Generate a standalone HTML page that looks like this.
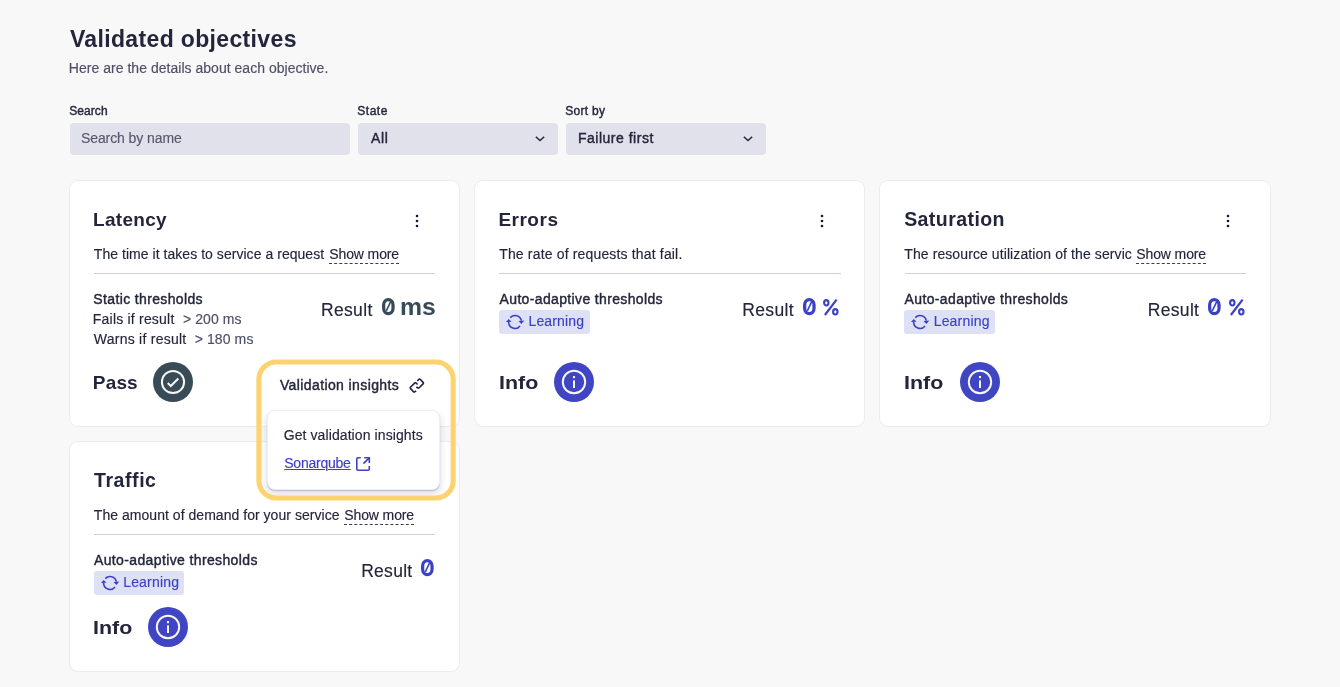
<!DOCTYPE html>
<html><head><meta charset="utf-8"><title>Validated objectives</title>
<style>
*{box-sizing:border-box;margin:0;padding:0}
html,body{width:1340px;height:687px;overflow:hidden;background:#f8f8f9;font-family:"Liberation Sans",sans-serif;}
.t{position:absolute;white-space:nowrap;line-height:20px;height:20px;}
.abs{position:absolute}
.card{position:absolute;background:#fff;border-radius:8px;box-shadow:0 0 0 1px #ebebf0;width:389.333px}
.inp{position:absolute;top:123px;height:32px;background:#e0e1ea;border-radius:4px}
.div{position:absolute;height:1px;background:#cdcedb;width:341.333px}
.chip{position:absolute;width:91px;height:24px;background:#dee1f6;border-radius:3px}
.circ{position:absolute;width:40px;height:40px;border-radius:50%}
svg{position:absolute;overflow:visible}
.bl{display:inline-block;width:0;height:0}
</style></head><body>
<!-- inputs -->
<div class="inp" style="left:70px;width:280px"></div>
<div class="inp" style="left:358px;width:200px"></div>
<div class="inp" style="left:566px;width:200px"></div>
<svg style="left:535px;top:135px" width="10" height="8" viewBox="0 0 10 8"><path d="M0.8 1.8 L5 5.6 L9.2 1.8" fill="none" stroke="#23263b" stroke-width="1.5"/></svg>
<svg style="left:743px;top:135px" width="10" height="8" viewBox="0 0 10 8"><path d="M0.8 1.8 L5 5.6 L9.2 1.8" fill="none" stroke="#23263b" stroke-width="1.5"/></svg>

<!-- cards -->
<div class="card" style="left:70px;top:181px;height:245px;width:389px"></div>
<div class="card" style="left:475px;top:181px;height:245px;width:389px"></div>
<div class="card" style="left:880px;top:181px;height:245px;width:390px"></div>
<div class="card" style="left:70px;top:442px;height:229px;width:389px"></div>

<div class="div" style="left:94px;top:273px"></div>
<div class="div" style="left:499.333px;top:273px"></div>
<div class="div" style="left:904.667px;top:273px"></div>
<div class="div" style="left:94px;top:534px"></div>

<svg style="left:414px;top:213px" width="6" height="16" viewBox="0 0 6 16"><g fill="#15153a"><circle cx="3" cy="3" r="1.3"/><circle cx="3" cy="8" r="1.3"/><circle cx="3" cy="13" r="1.3"/></g></svg>
<svg style="left:381.5px;top:297.9px" width="12.7" height="17.3" viewBox="0 0 12.7 17.3"><rect x="1.65" y="1.6" width="9.4" height="14.1" rx="4.7" ry="5.4" fill="none" stroke="#374a58" stroke-width="3.25"/><path d="M4.3 12.9 L8.6 3.9" stroke="#374a58" stroke-width="1.6" fill="none"/></svg>
<div class="circ" style="left:153px;top:362px;background:#384c58"></div>
<svg style="left:159px;top:368px" width="28" height="28" viewBox="-14 -14 28 28"><circle r="11.1" fill="none" stroke="#f8f7f3" stroke-width="2"/><path d="M-5.3 1 L-2.2 4 L5.3 -3.5" fill="none" stroke="#f7f6f2" stroke-width="2"/></svg>
<svg style="left:819.3330000000001px;top:213px" width="6" height="16" viewBox="0 0 6 16"><g fill="#15153a"><circle cx="3" cy="3" r="1.3"/><circle cx="3" cy="8" r="1.3"/><circle cx="3" cy="13" r="1.3"/></g></svg>
<svg style="left:802.8330000000001px;top:297.9px" width="12.7" height="17.3" viewBox="0 0 12.7 17.3"><rect x="1.65" y="1.6" width="9.4" height="14.1" rx="4.7" ry="5.4" fill="none" stroke="#3b41c4" stroke-width="3.25"/><path d="M4.3 12.9 L8.6 3.9" stroke="#3b41c4" stroke-width="1.6" fill="none"/></svg>
<svg style="left:823.433px;top:298.5px" width="15.6" height="16.8" viewBox="0 0 15.6 16.8"><g fill="none" stroke="#3b41c4" stroke-width="2.1"><ellipse cx="3.3" cy="3.8" rx="2.2" ry="2.7"/><ellipse cx="12.3" cy="12.8" rx="2.2" ry="2.7"/><path d="M1.9 16 L13.6 0.6" stroke-width="2.2"/></g></svg>
<div class="chip" style="left:499.033px;top:310px;width:91px"></div>
<svg style="left:504.83299999999997px;top:311.9px" width="20" height="20" viewBox="-10 -10 20 20"><g fill="none" stroke="#3b41c4" stroke-width="1.6"><path d="M-4.7 -4.4 A6.4 6.4 0 0 1 6.3 -1.3"/><path d="M-6.4 0 A6.4 6.4 0 0 0 5 4.05"/></g><path d="M-9.1 0.1 L-6.3 -2.9 L-3.5 -0.2 Z" fill="#3b41c4"/><path d="M9.3 -1.4 L6.4 1.9 L3.5 -1.1 Z" fill="#3b41c4"/></svg>
<div class="circ" style="left:554.3330000000001px;top:362px;background:#4046c3"></div>
<svg style="left:560.3330000000001px;top:368px" width="28" height="28" viewBox="-14 -14 28 28"><circle r="11.2" fill="none" stroke="#f8f7f3" stroke-width="2"/><rect x="-1" y="-6" width="2" height="2.2" fill="#f7f6f2"/><rect x="-1" y="-1.6" width="2" height="7.6" fill="#f7f6f2"/></svg>
<svg style="left:1224.6660000000002px;top:213px" width="6" height="16" viewBox="0 0 6 16"><g fill="#15153a"><circle cx="3" cy="3" r="1.3"/><circle cx="3" cy="8" r="1.3"/><circle cx="3" cy="13" r="1.3"/></g></svg>
<svg style="left:1208.1660000000002px;top:297.9px" width="12.7" height="17.3" viewBox="0 0 12.7 17.3"><rect x="1.65" y="1.6" width="9.4" height="14.1" rx="4.7" ry="5.4" fill="none" stroke="#3b41c4" stroke-width="3.25"/><path d="M4.3 12.9 L8.6 3.9" stroke="#3b41c4" stroke-width="1.6" fill="none"/></svg>
<svg style="left:1228.766px;top:298.5px" width="15.6" height="16.8" viewBox="0 0 15.6 16.8"><g fill="none" stroke="#3b41c4" stroke-width="2.1"><ellipse cx="3.3" cy="3.8" rx="2.2" ry="2.7"/><ellipse cx="12.3" cy="12.8" rx="2.2" ry="2.7"/><path d="M1.9 16 L13.6 0.6" stroke-width="2.2"/></g></svg>
<div class="chip" style="left:904.3660000000001px;top:310px;width:91px"></div>
<svg style="left:910.166px;top:311.9px" width="20" height="20" viewBox="-10 -10 20 20"><g fill="none" stroke="#3b41c4" stroke-width="1.6"><path d="M-4.7 -4.4 A6.4 6.4 0 0 1 6.3 -1.3"/><path d="M-6.4 0 A6.4 6.4 0 0 0 5 4.05"/></g><path d="M-9.1 0.1 L-6.3 -2.9 L-3.5 -0.2 Z" fill="#3b41c4"/><path d="M9.3 -1.4 L6.4 1.9 L3.5 -1.1 Z" fill="#3b41c4"/></svg>
<div class="circ" style="left:959.666px;top:362px;background:#4046c3"></div>
<svg style="left:965.666px;top:368px" width="28" height="28" viewBox="-14 -14 28 28"><circle r="11.2" fill="none" stroke="#f8f7f3" stroke-width="2"/><rect x="-1" y="-6" width="2" height="2.2" fill="#f7f6f2"/><rect x="-1" y="-1.6" width="2" height="7.6" fill="#f7f6f2"/></svg>
<svg style="left:421.4px;top:558.9px" width="12.7" height="17.3" viewBox="0 0 12.7 17.3"><rect x="1.65" y="1.6" width="9.4" height="14.1" rx="4.7" ry="5.4" fill="none" stroke="#3b41c4" stroke-width="3.25"/><path d="M4.3 12.9 L8.6 3.9" stroke="#3b41c4" stroke-width="1.6" fill="none"/></svg>
<div class="chip" style="left:94px;top:571px;width:90px"></div>
<svg style="left:99.8px;top:572.9px" width="20" height="20" viewBox="-10 -10 20 20"><g fill="none" stroke="#3b41c4" stroke-width="1.6"><path d="M-4.7 -4.4 A6.4 6.4 0 0 1 6.3 -1.3"/><path d="M-6.4 0 A6.4 6.4 0 0 0 5 4.05"/></g><path d="M-9.1 0.1 L-6.3 -2.9 L-3.5 -0.2 Z" fill="#3b41c4"/><path d="M9.3 -1.4 L6.4 1.9 L3.5 -1.1 Z" fill="#3b41c4"/></svg>
<div class="circ" style="left:148px;top:607px;background:#4046c3"></div>
<svg style="left:154px;top:613px" width="28" height="28" viewBox="-14 -14 28 28"><circle r="11.2" fill="none" stroke="#f8f7f3" stroke-width="2"/><rect x="-1" y="-6" width="2" height="2.2" fill="#f7f6f2"/><rect x="-1" y="-1.6" width="2" height="7.6" fill="#f7f6f2"/></svg>

<div class="abs" style="left:267px;top:410px;width:173px;height:80px;background:#fff;border-radius:8px;border:1px solid #eeeef4;box-shadow:0 1px 1px rgba(40,40,90,0.22),0 4px 6px 1px rgba(40,40,90,0.13)"></div>
<svg style="left:250px;top:350px" width="215" height="160" viewBox="250 350 215 160"><rect x="258.925" y="362.025" width="194.250" height="135.950" rx="17.3" ry="17.3" fill="none" stroke="#fdd372" stroke-width="5.15"/></svg>
<svg style="left:405px;top:374.2px" width="24" height="24" viewBox="405 374 24 24"><g fill="none" stroke="#20223f" stroke-width="1.6" stroke-linejoin="round"><path d="M417.6 384.5 L415.9 382.8 Q415.4 382.4 414.9 382.9 L410.4 387.3 Q409.9 387.8 410.4 388.4 L413.5 391.8 Q414 392.3 414.6 391.9 L416.2 390.9"/><path d="M417.3 381 L419.2 379.2 Q419.7 378.8 420.2 379.3 L423.3 382.6 Q423.7 383.1 423.3 383.6 L418.9 388 Q418.4 388.4 417.9 388 L416.3 386.9"/></g></svg>
<svg style="left:354px;top:455px" width="18" height="18" viewBox="354 455 18 18"><g fill="none" stroke="#3d42c3" stroke-width="1.6"><path d="M360.8 457.8 L358 457.8 Q356.8 457.8 356.8 459 L356.8 469 Q356.8 470.2 358 470.2 L368.1 470.2 Q369.3 470.2 369.3 469 L369.3 466"/><path d="M364.2 457.8 L369.3 457.8 L369.3 462.9"/><path d="M363.4 463.6 L369 458.1"/></g></svg>

<div style="position:absolute;left:0;top:0;width:1340px;height:687px;will-change:transform">
<span class="t" style="left:69.95px;top:29.00px;font-size:23px;font-weight:700;color:#23263b;letter-spacing:0.348px;">Validated objectives</span>
<span class="t" style="left:68.87px;top:58.00px;font-size:14px;font-weight:400;color:#4c4e66;letter-spacing:0.025px;-webkit-text-stroke:0.15px #4c4e66;">Here are the details about each objective.</span>
<span class="t" style="left:69.26px;top:101.00px;font-size:12px;font-weight:400;color:#23263b;letter-spacing:0.065px;-webkit-text-stroke:0.4px #23263b;">Search</span>
<span class="t" style="left:357.26px;top:101.00px;font-size:12px;font-weight:400;color:#23263b;letter-spacing:0.533px;-webkit-text-stroke:0.4px #23263b;">State</span>
<span class="t" style="left:565.26px;top:101.00px;font-size:12px;font-weight:400;color:#23263b;letter-spacing:0.279px;-webkit-text-stroke:0.4px #23263b;">Sort by</span>
<span class="t" style="left:80.97px;top:128.00px;font-size:14px;font-weight:400;color:#55586f;letter-spacing:-0.087px;-webkit-text-stroke:0.15px #55586f;">Search by name</span>
<span class="t" style="left:370.98px;top:128.00px;font-size:14px;font-weight:400;color:#23263b;letter-spacing:0.688px;-webkit-text-stroke:0.4px #23263b;">All</span>
<span class="t" style="left:578.01px;top:128.00px;font-size:14px;font-weight:400;color:#23263b;letter-spacing:0.504px;-webkit-text-stroke:0.4px #23263b;">Failure first</span>
<span class="t" style="left:93.02px;top:210.00px;font-size:19px;font-weight:700;color:#23263b;letter-spacing:0.291px;">Latency</span>
<span class="t" style="left:93.82px;top:244.00px;font-size:14px;font-weight:400;color:#23263b;letter-spacing:0.042px;-webkit-text-stroke:0.15px #23263b;">The time it takes to service a request</span>
<span class="t" style="left:329.30px;top:246.00px;font-size:14px;font-weight:400;color:#23263b;letter-spacing:-0.124px;border-bottom:1px dashed #3a3d52;line-height:17px;height:18px;-webkit-text-stroke:0.15px #23263b;">Show more</span>
<span class="t" style="left:93.30px;top:289.00px;font-size:14px;font-weight:400;color:#23263b;letter-spacing:0.363px;-webkit-text-stroke:0.4px #23263b;">Static thresholds</span>
<span class="t" style="left:92.85px;top:309.00px;font-size:14px;font-weight:400;color:#23263b;letter-spacing:0.204px;-webkit-text-stroke:0.15px #23263b;">Fails if result</span>
<span class="t" style="left:183.07px;top:309.00px;font-size:14px;font-weight:400;color:#4c4e66;letter-spacing:0.058px;-webkit-text-stroke:0.15px #4c4e66;">&gt; 200 ms</span>
<span class="t" style="left:93.86px;top:329.00px;font-size:14px;font-weight:400;color:#23263b;letter-spacing:0.241px;-webkit-text-stroke:0.15px #23263b;">Warns if result</span>
<span class="t" style="left:194.67px;top:329.00px;font-size:14px;font-weight:400;color:#4c4e66;letter-spacing:0.108px;-webkit-text-stroke:0.15px #4c4e66;">&gt; 180 ms</span>
<span class="t" style="left:321.03px;top:300.00px;font-size:17.5px;font-weight:400;color:#23263b;letter-spacing:0.328px;-webkit-text-stroke:0.15px #23263b;">Result</span>
<span class="t" style="left:400.32px;top:297.00px;font-size:24px;font-weight:700;color:#374a58;letter-spacing:0.000px;transform-origin:0 50%;transform:scaleX(1.0318);">ms</span>
<span class="t" style="left:92.82px;top:373.00px;font-size:19px;font-weight:700;color:#23263b;letter-spacing:0.165px;">Pass</span>
<span class="t" style="left:279.92px;top:375.00px;font-size:14px;font-weight:400;color:#23263b;letter-spacing:0.392px;-webkit-text-stroke:0.4px #23263b;">Validation insights</span>
<span class="t" style="left:283.66px;top:425.00px;font-size:14px;font-weight:400;color:#23263b;letter-spacing:0.095px;-webkit-text-stroke:0.15px #23263b;">Get validation insights</span>
<span class="t" style="left:284.28px;top:453.00px;font-size:14px;font-weight:400;color:#3b41c4;letter-spacing:-0.238px;text-decoration:underline;text-decoration-thickness:1px;text-underline-offset:1.2px;-webkit-text-stroke:0.15px #3b41c4;">Sonarqube</span>
<span class="t" style="left:498.39px;top:210.00px;font-size:19px;font-weight:700;color:#23263b;letter-spacing:0.508px;">Errors</span>
<span class="t" style="left:499.19px;top:244.00px;font-size:14px;font-weight:400;color:#23263b;letter-spacing:0.163px;-webkit-text-stroke:0.15px #23263b;">The rate of requests that fail.</span>
<span class="t" style="left:499.56px;top:289.00px;font-size:14px;font-weight:400;color:#23263b;letter-spacing:0.354px;-webkit-text-stroke:0.4px #23263b;">Auto-adaptive thresholds</span>
<span class="t" style="left:528.51px;top:311.00px;font-size:14px;font-weight:400;color:#3b41c4;letter-spacing:0.139px;-webkit-text-stroke:0.15px #3b41c4;">Learning</span>
<span class="t" style="left:742.24px;top:300.00px;font-size:17.5px;font-weight:400;color:#23263b;letter-spacing:0.368px;-webkit-text-stroke:0.15px #23263b;">Result</span>
<span class="t" style="left:498.74px;top:373.00px;font-size:19px;font-weight:700;color:#23263b;letter-spacing:0.000px;transform-origin:0 50%;transform:scaleX(1.1276);">Info</span>
<span class="t" style="left:904.13px;top:209.00px;font-size:19.5px;font-weight:700;color:#23263b;letter-spacing:0.442px;">Saturation</span>
<span class="t" style="left:904.26px;top:244.00px;font-size:14px;font-weight:400;color:#23263b;letter-spacing:0.094px;-webkit-text-stroke:0.15px #23263b;">The resource utilization of the servic</span>
<span class="t" style="left:1136.30px;top:246.00px;font-size:14px;font-weight:400;color:#23263b;letter-spacing:-0.124px;border-bottom:1px dashed #3a3d52;line-height:17px;height:18px;-webkit-text-stroke:0.15px #23263b;">Show more</span>
<span class="t" style="left:904.59px;top:289.00px;font-size:14px;font-weight:400;color:#23263b;letter-spacing:0.366px;-webkit-text-stroke:0.4px #23263b;">Auto-adaptive thresholds</span>
<span class="t" style="left:933.67px;top:311.00px;font-size:14px;font-weight:400;color:#3b41c4;letter-spacing:0.191px;-webkit-text-stroke:0.15px #3b41c4;">Learning</span>
<span class="t" style="left:1147.81px;top:300.00px;font-size:17.5px;font-weight:400;color:#23263b;letter-spacing:0.314px;-webkit-text-stroke:0.15px #23263b;">Result</span>
<span class="t" style="left:903.94px;top:373.00px;font-size:19px;font-weight:700;color:#23263b;letter-spacing:0.000px;transform-origin:0 50%;transform:scaleX(1.1276);">Info</span>
<span class="t" style="left:94.03px;top:470.00px;font-size:19.5px;font-weight:700;color:#23263b;letter-spacing:0.571px;">Traffic</span>
<span class="t" style="left:93.82px;top:505.00px;font-size:14px;font-weight:400;color:#23263b;letter-spacing:0.036px;-webkit-text-stroke:0.15px #23263b;">The amount of demand for your service</span>
<span class="t" style="left:344.30px;top:507.00px;font-size:14px;font-weight:400;color:#23263b;letter-spacing:-0.124px;border-bottom:1px dashed #3a3d52;line-height:17px;height:18px;-webkit-text-stroke:0.15px #23263b;">Show more</span>
<span class="t" style="left:93.98px;top:550.00px;font-size:14px;font-weight:400;color:#23263b;letter-spacing:0.372px;-webkit-text-stroke:0.4px #23263b;">Auto-adaptive thresholds</span>
<span class="t" style="left:123.16px;top:572.00px;font-size:14px;font-weight:400;color:#3b41c4;letter-spacing:0.196px;-webkit-text-stroke:0.15px #3b41c4;">Learning</span>
<span class="t" style="left:361.18px;top:561.00px;font-size:17.5px;font-weight:400;color:#23263b;letter-spacing:0.280px;-webkit-text-stroke:0.15px #23263b;">Result</span>
<span class="t" style="left:92.94px;top:618.00px;font-size:19px;font-weight:700;color:#23263b;letter-spacing:0.000px;transform-origin:0 50%;transform:scaleX(1.1276);">Info</span>
</div>
</body></html>
